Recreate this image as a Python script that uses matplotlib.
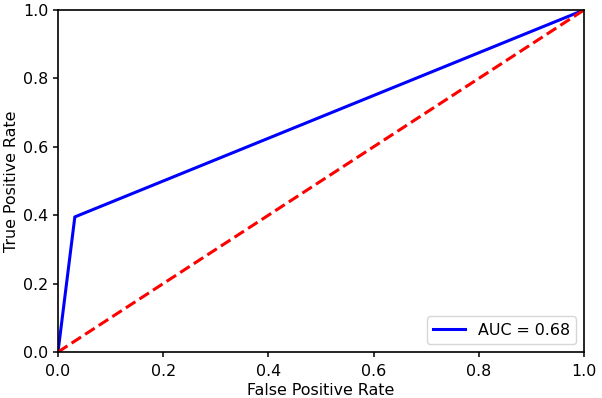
import matplotlib
matplotlib.use('Agg')
import matplotlib.pyplot as plt

fpr = [0.0, 0.032, 1.0]
tpr = [0.0, 0.395, 1.0]
diag = [0.0, 1.0]
auc_label = 'AUC = 0.68'

plt.rcParams['font.size'] = 11.4
plt.rcParams['axes.linewidth'] = 1.2
plt.rcParams['xtick.major.width'] = 1.1
plt.rcParams['ytick.major.width'] = 1.1
plt.rcParams['xtick.major.pad'] = 5

fig = plt.figure(figsize=(6.02, 3.98), dpi=100)
ax = fig.add_axes([58 / 602, 46 / 398, 526 / 602, 342 / 398])
ax.plot(fpr, tpr, 'b', linewidth=2.2, label=auc_label)
ax.plot(diag, diag, 'r--', linewidth=2.2)
ax.set_xlim(0, 1)
ax.set_ylim(0, 1)
ax.set_xlabel('False Positive Rate', labelpad=3)
ax.set_ylabel('True Positive Rate', labelpad=3)
ax.legend(loc='lower right')
fig.savefig('out.png', dpi=100)
